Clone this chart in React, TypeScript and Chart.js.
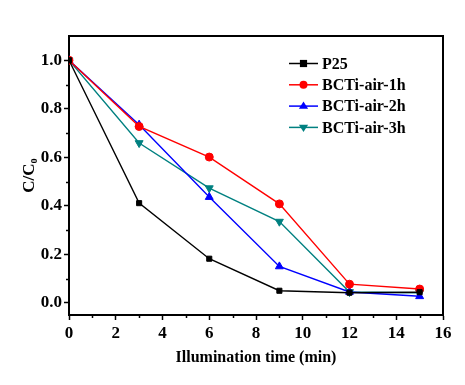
import React, { useEffect, useRef } from 'react';
import { Chart, registerables } from 'chart.js';

Chart.register(...registerables);

const times = [0, 3, 6, 9, 12, 15];
const p25 = [1.0, 0.411, 0.182, 0.05, 0.042, 0.044];
const air1h = [1.0, 0.727, 0.601, 0.408, 0.077, 0.057];
const air2h = [1.0, 0.734, 0.436, 0.15, 0.045, 0.027];
const air3h = [1.0, 0.659, 0.473, 0.335, 0.045, 0.042];
const seriesNames = ['P25', 'BCTi-air-1h', 'BCTi-air-2h', 'BCTi-air-3h'];
const seriesColors = ['#000000', '#ff0000', '#0000ff', '#008080'];
const xTicks = [0, 2, 4, 6, 8, 10, 12, 14, 16];
const yTicks = [0.0, 0.2, 0.4, 0.6, 0.8, 1.0];
const xTitle = 'Illumination time (min)';
const yTitle = 'C/C\u2080';

const FONT = "'Liberation Serif', 'Times New Roman', serif";

const pointStyles: any[] = ['rect', 'circle', 'triangle', 'triangle'];
const pointRotations = [0, 0, 0, 180];
const pointRadii = [3.6, 4, 4.6, 4.6];

function drawMarker(ctx: CanvasRenderingContext2D, style: string, x: number, y: number, r: number, rot: number) {
  ctx.save();
  ctx.translate(x, y);
  ctx.rotate((rot * Math.PI) / 180);
  ctx.beginPath();
  if (style === 'rect') {
    ctx.rect(-r, -r, 2 * r, 2 * r);
  } else if (style === 'circle') {
    ctx.arc(0, 0, r, 0, Math.PI * 2);
  } else {
    ctx.moveTo(0, -r);
    ctx.lineTo(r, r * 0.6);
    ctx.lineTo(-r, r * 0.6);
    ctx.closePath();
  }
  ctx.fill();
  ctx.restore();
}

const framePlugin = {
  id: 'frame',
  afterDatasetsDraw(chart: any) {
    const { ctx, chartArea } = chart;
    const { left, right, top, bottom } = chartArea;
    ctx.save();
    ctx.strokeStyle = '#000';
    ctx.lineWidth = 2;
    ctx.beginPath();
    ctx.moveTo(left, top);
    ctx.lineTo(right, top);
    ctx.lineTo(right, bottom);
    ctx.stroke();
    // minor ticks
    ctx.lineWidth = 1.5;
    const xs = chart.scales.x;
    const ys = chart.scales.y;
    for (let i = 0; i < xTicks.length - 1; i++) {
      const v = (xTicks[i] + xTicks[i + 1]) / 2;
      const px = Math.round(xs.getPixelForValue(v)) + 0.5;
      ctx.beginPath();
      ctx.moveTo(px, bottom);
      ctx.lineTo(px, bottom + 3);
      ctx.stroke();
    }
    for (let i = 0; i < yTicks.length - 1; i++) {
      const v = (yTicks[i] + yTicks[i + 1]) / 2;
      const py = Math.round(ys.getPixelForValue(v)) + 0.5;
      ctx.beginPath();
      ctx.moveTo(left, py);
      ctx.lineTo(left - 3, py);
      ctx.stroke();
    }
    // legend
    const lx0 = 289;
    const lx1 = 318;
    const ly0 = 63.5;
    const dy = 21.3;
    ctx.font = `bold 16px ${FONT}`;
    ctx.textBaseline = 'middle';
    ctx.textAlign = 'left';
    seriesNames.forEach((name, i) => {
      const y = ly0 + dy * i;
      ctx.strokeStyle = seriesColors[i];
      ctx.lineWidth = 1.5;
      ctx.beginPath();
      ctx.moveTo(lx0, y);
      ctx.lineTo(lx1, y);
      ctx.stroke();
      ctx.fillStyle = seriesColors[i];
      drawMarker(ctx, pointStyles[i], (lx0 + lx1) / 2, y, pointRadii[i], pointRotations[i]);
      ctx.fillStyle = '#000';
      ctx.fillText(name, 322, y + 1);
    });
    ctx.restore();
  },
};

export default function App() {
  const ref = useRef<HTMLCanvasElement | null>(null);
  useEffect(() => {
    if (!ref.current) return;
    const datasets = [p25, air1h, air2h, air3h].map((vals, i) => ({
      label: seriesNames[i],
      data: times.map((t, j) => ({ x: t, y: vals[j] })),
      borderColor: seriesColors[i],
      backgroundColor: seriesColors[i],
      borderWidth: 1.4,
      pointStyle: pointStyles[i],
      pointRotation: pointRotations[i],
      pointRadius: pointRadii[i],
      pointBorderWidth: 1,
      tension: 0,
    }));
    const chart = new Chart(ref.current, {
      type: 'line',
      data: { datasets },
      options: {
        responsive: false,
        animation: false,
        layout: { padding: { left: 19, right: 22, top: 36, bottom: 18 } },
        plugins: {
          legend: { display: false },
          tooltip: { enabled: false },
        },
        scales: {
          x: {
            type: 'linear',
            min: 0,
            max: 16,
            afterBuildTicks: (s: any) => {
              s.ticks = xTicks.map((v) => ({ value: v }));
            },
            afterFit: (s: any) => {
              s.height = 52;
            },
            ticks: {
              color: '#000',
              font: { family: FONT, size: 17, weight: 'bold' },
              padding: 3,
              maxRotation: 0,
              callback: (v: any) => String(v),
            },
            grid: {
              drawOnChartArea: false,
              drawTicks: true,
              tickLength: 5,
              tickColor: '#000',
              tickWidth: 1.5,
            },
            border: { color: '#000', width: 2 },
            title: {
              display: true,
              text: xTitle,
              color: '#000',
              font: { family: FONT, size: 16, weight: 'bold' },
              padding: { top: 4, bottom: 0 },
            },
          },
          y: {
            type: 'linear',
            min: -0.05,
            max: 1.1,
            afterBuildTicks: (s: any) => {
              s.ticks = yTicks.map((v) => ({ value: v }));
            },
            afterFit: (s: any) => {
              s.width = 50;
            },
            ticks: {
              color: '#000',
              font: { family: FONT, size: 17, weight: 'bold' },
              padding: 2,
              callback: (v: any) => Number(v).toFixed(1),
            },
            grid: {
              drawOnChartArea: false,
              drawTicks: true,
              tickLength: 5,
              tickColor: '#000',
              tickWidth: 1.5,
            },
            border: { color: '#000', width: 2 },
            title: {
              display: true,
              text: yTitle,
              color: '#000',
              font: { family: FONT, size: 17, weight: 'bold' },
              padding: { top: 0, bottom: 6 },
            },
          },
        },
      } as any,
      plugins: [framePlugin],
    });
    return () => chart.destroy();
  }, []);
  return (
    <div style={{ position: 'absolute', left: 0, top: 0, width: 465, height: 385, background: '#fff' }}>
      <canvas ref={ref} width={465} height={385} style={{ display: 'block' }} />
    </div>
  );
}
